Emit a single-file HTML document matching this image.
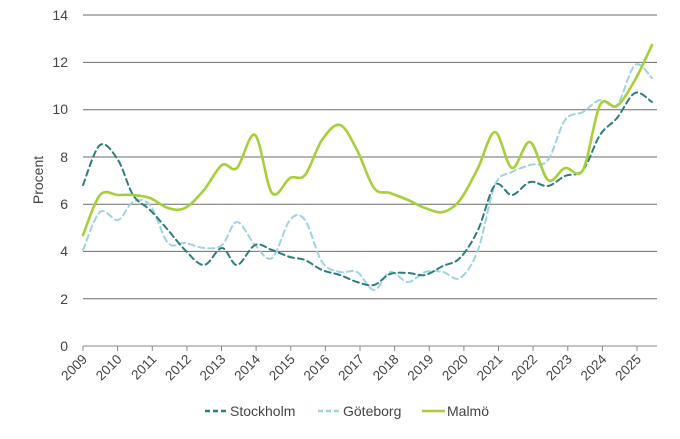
<!DOCTYPE html><html><head><style>body{margin:0;background:#fff}svg{font-family:"Liberation Sans",sans-serif}</style></head><body>
<svg id="s" width="680" height="434" xmlns="http://www.w3.org/2000/svg">
<g stroke="#6b6b6b" stroke-width="1">
<line x1="83" x2="657" y1="15" y2="15"/><line x1="83" x2="657" y1="62.4" y2="62.4"/><line x1="83" x2="657" y1="109.7" y2="109.7"/><line x1="83" x2="657" y1="157" y2="157"/><line x1="83" x2="657" y1="204.2" y2="204.2"/><line x1="83" x2="657" y1="251.4" y2="251.4"/><line x1="83" x2="657" y1="298.7" y2="298.7"/><line x1="83" x2="657" y1="346" y2="346" stroke="#888"/>
</g>
<g stroke="#888"><path d="M83 346v5M117.6 346v5M152.3 346v5M186.9 346v5M221.5 346v5M256.1 346v5M290.8 346v5M325.4 346v5M360 346v5M394.6 346v5M429.3 346v5M463.9 346v5M498.5 346v5M533.1 346v5M567.8 346v5M602.4 346v5M637 346v5"/></g>
<g font-size="14" fill="#444" text-anchor="end">
<text x="68" y="20">14</text><text x="68" y="67">12</text><text x="68" y="114">10</text><text x="68" y="162">8</text><text x="68" y="209">6</text><text x="68" y="256">4</text><text x="68" y="304">2</text><text x="68" y="351">0</text>
</g>
<text transform="translate(43,180) rotate(-90)" font-size="14" fill="#444" text-anchor="middle">Procent</text>
<g font-size="13.5" fill="#444" text-anchor="end">
<text transform="translate(88,360) rotate(-45)">2009</text><text transform="translate(122.6,360) rotate(-45)">2010</text><text transform="translate(157.3,360) rotate(-45)">2011</text><text transform="translate(191.9,360) rotate(-45)">2012</text><text transform="translate(226.5,360) rotate(-45)">2013</text><text transform="translate(261.1,360) rotate(-45)">2014</text><text transform="translate(295.8,360) rotate(-45)">2015</text><text transform="translate(330.4,360) rotate(-45)">2016</text><text transform="translate(365,360) rotate(-45)">2017</text><text transform="translate(399.6,360) rotate(-45)">2018</text><text transform="translate(434.3,360) rotate(-45)">2019</text><text transform="translate(468.9,360) rotate(-45)">2020</text><text transform="translate(503.5,360) rotate(-45)">2021</text><text transform="translate(538.1,360) rotate(-45)">2022</text><text transform="translate(572.8,360) rotate(-45)">2023</text><text transform="translate(607.4,360) rotate(-45)">2024</text><text transform="translate(642,360) rotate(-45)">2025</text>
</g>
<g fill="none" stroke-linejoin="round" stroke-linecap="round">
<polyline class="sm" stroke="#9fd3df" stroke-width="2" stroke-dasharray="6,4" points="83,250 100,212 118,220 133,202 150,205 168,243 185,243 204,248 222,245 237,222 255,245 272,258 290,220 305,220 322,262 340,272 357,272 374,290 390,272 408,282 425,272 443,272 460,278 478,250 495,185 512,172 530,165 548,160 565,120 583,112 600,100 617,105 635,65 652,78"/>
<polyline class="sm" stroke="#2e7d7d" stroke-width="2" stroke-dasharray="6,4" points="83,185 100,145 118,160 133,195 150,210 168,230 185,250 204,265 222,248 237,265 255,245 272,250 290,257 305,260 322,270 340,275 357,282 374,285 390,274 408,273 425,275 443,266 460,258 478,230 495,185 512,195 530,182 548,186 565,176 583,170 600,135 617,118 635,93 652,102"/>
<polyline class="sm" stroke="#a6cf3a" stroke-width="2.6" points="83,235 100,195 118,195 133,195 150,198 168,208 185,208 204,190 222,165 237,168 255,135 272,193 290,178 305,175 322,140 340,125 357,150 374,188 390,193 408,200 425,208 443,212 460,200 478,168 495,132 512,168 530,142 548,180 565,168 583,170 600,105 617,106 635,80 652,45"/>
</g>
<g font-size="14" fill="#444">
<line x1="205" x2="227" y1="411" y2="411" stroke="#2e7d7d" stroke-width="2.5" stroke-dasharray="5,3"/><text x="230" y="416">Stockholm</text>
<line x1="318" x2="340" y1="411" y2="411" stroke="#9fd3df" stroke-width="2.5" stroke-dasharray="5,3"/><text x="343" y="416">Göteborg</text>
<line x1="422" x2="445" y1="411" y2="411" stroke="#a6cf3a" stroke-width="2.6"/><text x="447" y="416">Malmö</text>
</g>
</svg>
<script>
document.querySelectorAll('polyline.sm').forEach(function(pl){
 var p=pl.getAttribute('points').trim().split(/\s+/).map(function(s){return s.split(',').map(Number)});
 var d='M'+p[0][0]+' '+p[0][1];
 for(var i=0;i<p.length-1;i++){
  var a=p[i-1]||p[i],b=p[i],c=p[i+1],e=p[i+2]||c,t=6;
  d+=' C'+(b[0]+(c[0]-a[0])/t)+' '+(b[1]+(c[1]-a[1])/t)+' '+(c[0]-(e[0]-b[0])/t)+' '+(c[1]-(e[1]-b[1])/t)+' '+c[0]+' '+c[1];
 }
 var path=document.createElementNS('http://www.w3.org/2000/svg','path');
 ['stroke','stroke-width','stroke-dasharray'].forEach(function(k){if(pl.getAttribute(k))path.setAttribute(k,pl.getAttribute(k))});
 path.setAttribute('d',d);pl.parentNode.replaceChild(path,pl);
});
</script>
</body></html>
